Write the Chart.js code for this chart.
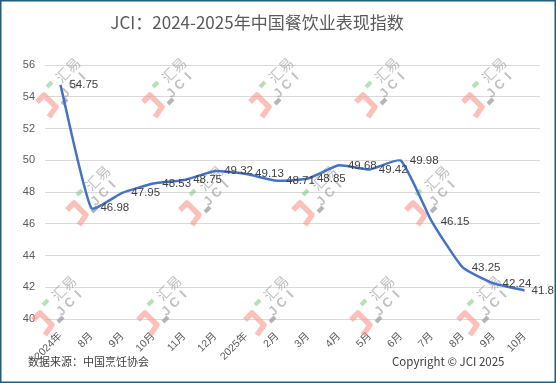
<!DOCTYPE html>
<html><head><meta charset="utf-8">
<script src="https://cdn.jsdelivr.net/npm/chart.js@4/dist/chart.umd.min.js"></script>
<style>html,body{margin:0;padding:0;background:#fff;overflow:hidden}#wrap{width:556px;height:383px;position:relative}</style>
</head><body><div id="wrap"><canvas id="c" width="556" height="383"></canvas></div>
<script>
const categories = ['2024年','8月','9月','10月','11月','12月','2025年','2月','3月','4月','5月','6月','7月','8月','9月','10月'];
const jciValues = [54.75,46.98,47.95,48.53,48.75,49.32,49.13,48.71,48.85,49.68,49.42,49.98,46.15,43.25,42.24,41.8];
const yTicks = [40,42,44,46,48,50,52,54,56];
const titleText = 'JCI：2024-2025年中国餐饮业表现指数';
const sourceText = '数据来源：中国烹饪协会';
const copyrightText = 'Copyright © JCI 2025';
const wmRow1 = [37,143,250,356,463];
const wmRow2 = [67,180,293,406];
const wmRow3 = [33,138,245,351,458];

const NUMF = '"Liberation Sans", Arial, "Noto Sans CJK SC", sans-serif';
const CJKF = '"Noto Sans CJK SC", "Noto Sans", sans-serif';

function drawMark(ctx, ax, ay){
  ctx.save();
  ctx.lineJoin = 'round';
  ctx.lineCap = 'butt';
  ctx.strokeStyle = 'rgba(248,150,140,0.6)';
  ctx.lineWidth = 5.5;
  ctx.beginPath();
  ctx.moveTo(ax, ay+5); ctx.lineTo(ax+7, ay-2); ctx.lineTo(ax+19, ay+10); ctx.lineTo(ax+12, ay+20);
  ctx.stroke();
  ctx.strokeStyle = 'rgba(120,200,130,0.55)';
  ctx.lineWidth = 4;
  ctx.beginPath(); ctx.moveTo(ax+10, ay-10); ctx.lineTo(ax+15, ay-15); ctx.stroke();
  ctx.strokeStyle = 'rgba(150,150,150,0.7)';
  ctx.beginPath(); ctx.moveTo(ax+25, ay+7); ctx.lineTo(ax+30, ay+2); ctx.stroke();
  ctx.fillStyle = 'rgba(150,150,150,0.6)';
  ctx.textAlign = 'center'; ctx.textBaseline = 'middle';
  ctx.save(); ctx.translate(ax+31, ay-27); ctx.rotate(-Math.PI/4);
  ctx.font = '14px ' + CJKF; ctx.fillText('汇易', 0, 0); ctx.restore();
  ctx.save(); ctx.translate(ax+37, ay-12); ctx.rotate(-Math.PI/4);
  ctx.font = 'bold 13px ' + NUMF;
  ctx.fillText('J', -12, 0); ctx.fillText('C', 0, 0); ctx.fillText('I', 12, 0);
  ctx.restore();
  ctx.restore();
}

const decor = {
  id: 'decor',
  beforeDraw(chart){
    const ctx = chart.ctx;
    ctx.save(); ctx.fillStyle = '#fff'; ctx.fillRect(0,0,chart.width,chart.height); ctx.restore();
  },
  beforeDatasetsDraw(chart){
    const ctx = chart.ctx;
    wmRow1.forEach(x => drawMark(ctx, x, 97));
    wmRow2.forEach(x => drawMark(ctx, x, 205));
    wmRow3.forEach(x => drawMark(ctx, x, 315));
  },
  afterDatasetsDraw(chart){
    const ctx = chart.ctx;
    const meta = chart.getDatasetMeta(0);
    ctx.save();
    ctx.font = '11.5px ' + NUMF;
    ctx.fillStyle = '#404040';
    ctx.textAlign = 'left'; ctx.textBaseline = 'middle';
    meta.data.forEach((pt, i) => {
      const txt = String(jciValues[i]);
      const w = ctx.measureText(txt).width;
      const x = Math.min(pt.x + 9, chart.width - 2 - w);
      ctx.fillText(txt, x, pt.y);
    });
    ctx.restore();
  },
  afterDraw(chart){
    const ctx = chart.ctx;
    ctx.save();
    ctx.fillStyle = '#595959';
    ctx.font = '17px ' + CJKF;
    ctx.textAlign = 'center'; ctx.textBaseline = 'middle';
    ctx.fillText(titleText, 257, 23);
    ctx.fillStyle = '#404040';
    ctx.textAlign = 'left';
    ctx.font = '11px ' + CJKF;
    ctx.fillText(sourceText, 28, 362);
    ctx.font = '11.5px ' + CJKF;
    ctx.fillText(copyrightText, 392, 362);
    ctx.strokeStyle = '#1f5c80';
    ctx.lineWidth = 1.5;
    ctx.strokeRect(0.75, 0.75, chart.width-1.5, chart.height-1.5);
    ctx.restore();
  }
};

new Chart(document.getElementById('c'), {
  type: 'line',
  data: {
    labels: categories,
    datasets: [{
      data: jciValues,
      borderColor: '#4472C4',
      borderWidth: 2.5,
      pointRadius: 0,
      tension: 0.15,
      fill: false
    }]
  },
  options: {
    responsive: false,
    animation: false,
    devicePixelRatio: 1,
    layout: { padding: { top: 65, right: 16, bottom: 0, left: 0 } },
    plugins: { legend: { display: false }, tooltip: { enabled: false }, title: { display: false } },
    scales: {
      x: {
        type: 'category',
        offset: true,
        grid: { display: false },
        border: { display: false },
        ticks: {
          autoSkip: false, maxRotation: 45, minRotation: 45,
          color: '#595959', padding: 3,
          font: { size: 10.5, family: NUMF }
        },
        afterFit(scale){ scale.height = 64; }
      },
      y: {
        min: 40, max: 56,
        grid: { color: '#d9d9d9', lineWidth: 1, drawTicks: false },
        border: { display: false },
        afterBuildTicks(scale){ scale.ticks = yTicks.map(v => ({ value: v })); },
        ticks: { color: '#595959', padding: 10, font: { size: 11, family: NUMF } },
        afterFit(scale){ scale.width = 45; }
      }
    }
  },
  plugins: [decor]
});
</script>
</body></html>
